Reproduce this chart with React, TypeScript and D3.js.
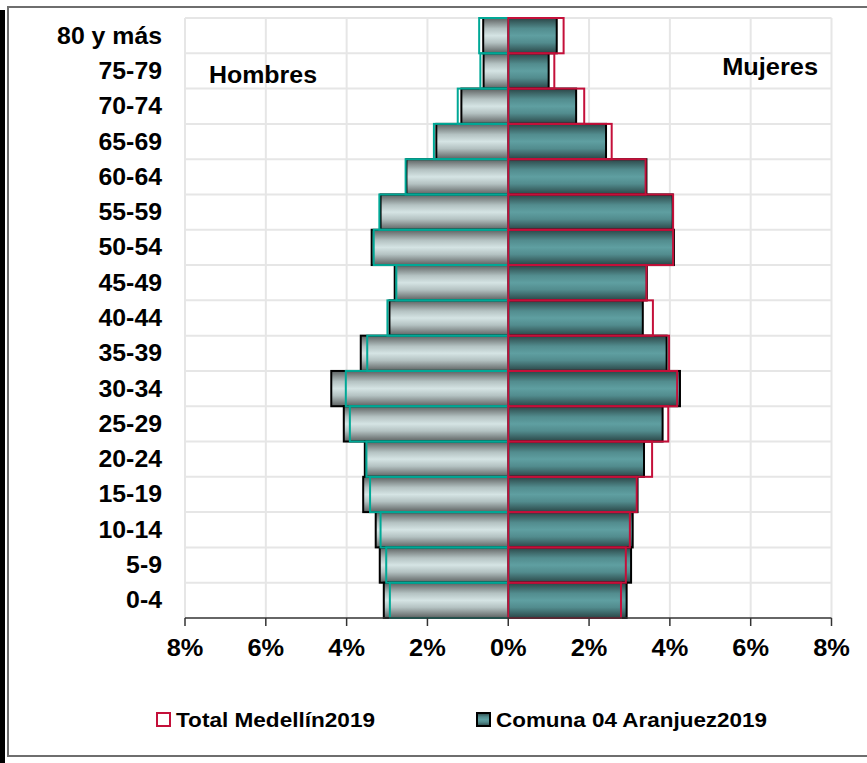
import { scaleBand, scaleLinear, range } from 'd3'

const categories = [
  '80 y más', '75-79', '70-74', '65-69', '60-64', '55-59', '50-54', '45-49', '40-44',
  '35-39', '30-34', '25-29', '20-24', '15-19', '10-14', '5-9', '0-4',
]
// percentages
const hombresComuna = [0.62, 0.61, 1.16, 1.78, 2.52, 3.16, 3.38, 2.81, 2.94, 3.65, 4.38, 4.07, 3.55, 3.59, 3.28, 3.18, 3.08]
const hombresMedellin = [0.72, 0.69, 1.25, 1.84, 2.54, 3.19, 3.33, 2.77, 2.99, 3.49, 4.02, 3.92, 3.51, 3.42, 3.16, 3.02, 2.93]
const mujeresComuna = [1.2, 1.0, 1.68, 2.42, 3.42, 4.07, 4.1, 3.43, 3.33, 3.92, 4.25, 3.82, 3.36, 3.2, 3.08, 3.04, 2.93]
const mujeresMedellin = [1.37, 1.14, 1.88, 2.56, 3.4, 4.08, 4.08, 3.42, 3.58, 3.98, 4.18, 3.96, 3.56, 3.18, 3.01, 2.91, 2.79]
const xTicks = [-8, -6, -4, -2, 0, 2, 4, 6, 8]
const legendLabels = ['Total Medellín2019', 'Comuna 04 Aranjuez2019']

const W = 867
const H = 763
const font = '"Liberation Sans", Arial, sans-serif'
const teal = '#00a896'
const crimson = '#c4103a'
const stretch = 1.08 // the source text is a little wider than plain Arial

export default function App() {
  const plot = { left: 185, right: 831.5, top: 18, bottom: 618 }
  const x = scaleLinear().domain([-8, 8]).range([plot.left, plot.right])
  const y = scaleBand().domain(categories).range([plot.top, plot.bottom]).padding(0)
  const bw = y.bandwidth()
  const x0 = x(0)

  return (
    <svg
      width={W}
      height={H}
      style={{ position: 'absolute', left: 0, top: 0, background: '#fff' }}
      fontFamily={font}
      fontWeight="bold"
    >
      <defs>
        <linearGradient id="gMale" x1="0" y1="0" x2="0" y2="1">
          <stop offset="0" stopColor="#5c6060" />
          <stop offset="0.3" stopColor="#b4c2c2" />
          <stop offset="0.5" stopColor="#d5e4e4" />
          <stop offset="0.7" stopColor="#b4c2c2" />
          <stop offset="1" stopColor="#5c6060" />
        </linearGradient>
        <linearGradient id="gFemale" x1="0" y1="0" x2="0" y2="1">
          <stop offset="0" stopColor="#2a4546" />
          <stop offset="0.3" stopColor="#528c8e" />
          <stop offset="0.5" stopColor="#5f9fa1" />
          <stop offset="0.7" stopColor="#528c8e" />
          <stop offset="1" stopColor="#2a4546" />
        </linearGradient>
      </defs>

      <rect x={0} y={0} width={W} height={H} fill="#fff" />
      {/* outer frame + dark strip at the left edge */}
      <rect x={8} y={7} width={W} height={749} fill="none" stroke="#6e6e6e" strokeWidth={2} />
      <rect x={0} y={10} width={5} height={H - 10} fill="#000" />

      {/* grid */}
      {xTicks.map((t) => (
        <line key={`gx-${t}`} x1={x(t)} x2={x(t)} y1={plot.top} y2={plot.bottom} stroke="#e6e6e6" strokeWidth={2} />
      ))}
      {categories.map((c) => (
        <line key={`gy-${c}`} x1={plot.left} x2={plot.right} y1={y(c)} y2={y(c)} stroke="#e6e6e6" strokeWidth={2} />
      ))}

      {/* Comuna bars */}
      {categories.map((c, i) => (
        <rect
          key={`hc-${c}`}
          x={x(-hombresComuna[i])}
          y={y(c)}
          width={x0 - x(-hombresComuna[i])}
          height={bw}
          fill="url(#gMale)"
          stroke="#000"
          strokeWidth={2}
        />
      ))}
      {categories.map((c, i) => (
        <rect
          key={`mc-${c}`}
          x={x0}
          y={y(c)}
          width={x(mujeresComuna[i]) - x0}
          height={bw}
          fill="url(#gFemale)"
          stroke="#000"
          strokeWidth={2}
        />
      ))}

      {/* Medellín outlines */}
      {categories.map((c, i) => (
        <rect
          key={`hm-${c}`}
          x={x(-hombresMedellin[i])}
          y={y(c)}
          width={x0 - x(-hombresMedellin[i])}
          height={bw}
          fill="none"
          stroke={teal}
          strokeWidth={2}
        />
      ))}
      {categories.map((c, i) => (
        <rect
          key={`mm-${c}`}
          x={x0}
          y={y(c)}
          width={x(mujeresMedellin[i]) - x0}
          height={bw}
          fill="none"
          stroke={crimson}
          strokeWidth={2}
        />
      ))}

      {/* x axis */}
      <line x1={plot.left} x2={plot.right} y1={plot.bottom} y2={plot.bottom} stroke="#333" strokeWidth={1.5} />
      {xTicks.map((t) => (
        <g key={`tx-${t}`} transform={`translate(${x(t)},${plot.bottom})`}>
          <line y1={0} y2={8} stroke="#333" strokeWidth={1.5} />
          <text transform={`translate(0,38) scale(${stretch},1)`} textAnchor="middle" fontSize={23.5}>
            {`${Math.abs(t)}%`}
          </text>
        </g>
      ))}

      {/* category labels */}
      {categories.map((c) => (
        <text
          key={`ly-${c}`}
          transform={`translate(162,${(y(c) ?? 0) + bw / 2 + 8}) scale(${stretch},1)`}
          textAnchor="end"
          fontSize={23}
        >
          {c}
        </text>
      ))}

      <text x={209} y={83} fontSize={23} textLength={108} lengthAdjust="spacingAndGlyphs">Hombres</text>
      <text transform={`translate(818,75) scale(${stretch},1)`} fontSize={23.5} textAnchor="end">Mujeres</text>

      {/* legend */}
      {range(legendLabels.length).map((i) => {
        const lx = i === 0 ? 157 : 477
        const tw = i === 0 ? 199 : 271
        return (
          <g key={legendLabels[i]} transform={`translate(${lx},713)`}>
            <rect
              x={0}
              y={0}
              width={13}
              height={13}
              fill={i === 0 ? '#fff' : 'url(#gFemale)'}
              stroke={i === 0 ? crimson : '#000'}
              strokeWidth={2}
            />
            <text x={19} y={14} fontSize={21} textLength={tw} lengthAdjust="spacingAndGlyphs">
              {legendLabels[i]}
            </text>
          </g>
        )
      })}
    </svg>
  )
}
